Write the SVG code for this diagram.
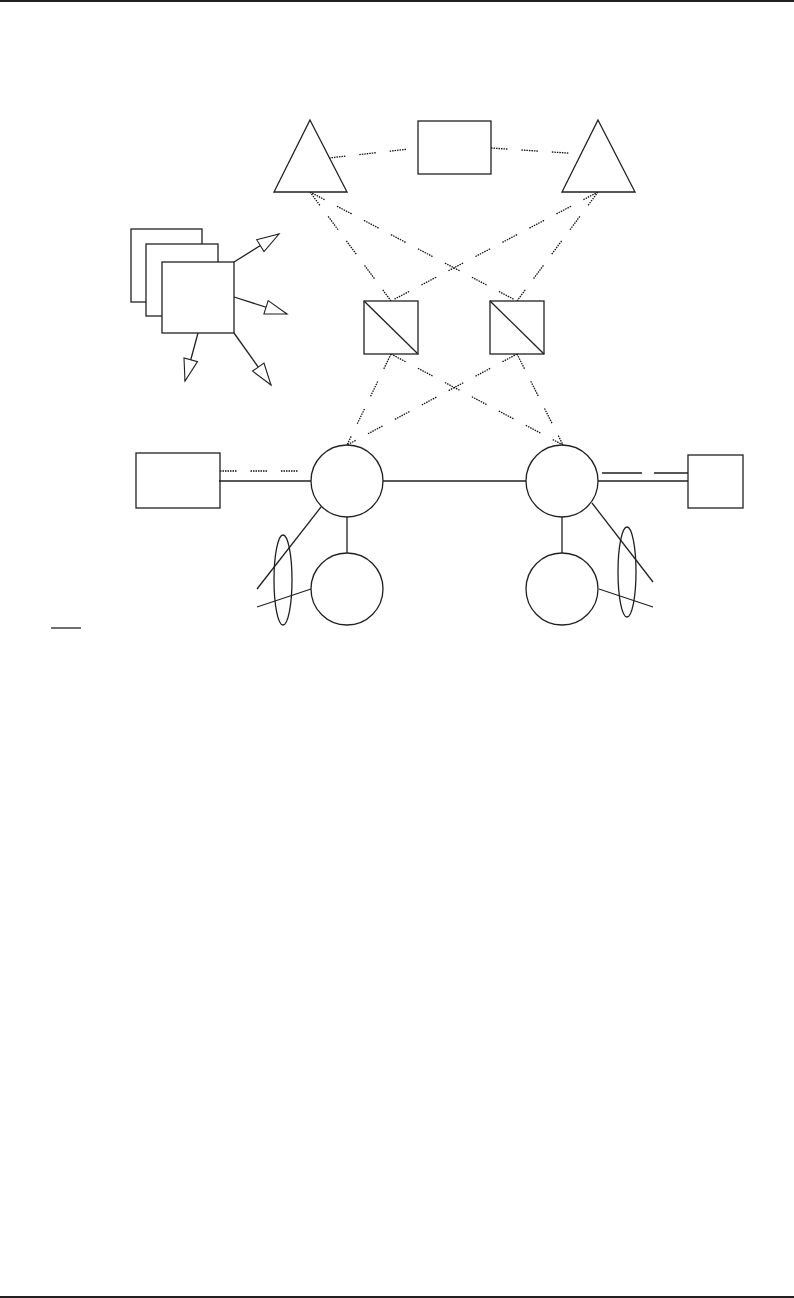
<svg xmlns="http://www.w3.org/2000/svg" width="794" height="1298" viewBox="0 0 794 1298">
<style>
.s{fill:none;stroke:#231f20;stroke-width:1.3}
.b{fill:#fff;stroke:#231f20;stroke-width:1.3}
.d{fill:none;stroke:#111;stroke-width:1.3;stroke-dasharray:1.5 1 1.5 1 1.5 1 1.5 1 1.5 1 1.5 1 1.5 14}
.ld{fill:none;stroke:#231f20;stroke-width:1.3;stroke-dasharray:40 12}
</style>
<defs>
<marker id="ah" markerUnits="userSpaceOnUse" markerWidth="26" markerHeight="18" refX="23" refY="8" orient="auto" viewBox="0 0 26 18">
<path d="M1,1 L23,8 L1,15 Z" fill="#fff" stroke="#231f20" stroke-width="1.1"/>
</marker>
</defs>
<rect x="0" y="0" width="794" height="2" fill="#231f20"/>
<rect x="0" y="1296" width="794" height="2" fill="#231f20"/>
<g id="connectors">
<line class="d" x1="329" y1="158" x2="418" y2="148"/>
<line class="d" x1="491" y1="148" x2="582" y2="154"/>
<line class="d" x1="310" y1="192" x2="391" y2="301"/>
<line class="d" x1="310" y1="192" x2="517" y2="301"/>
<line class="d" x1="598" y1="192" x2="391" y2="301"/>
<line class="d" x1="598" y1="192" x2="517" y2="301"/>
<line class="d" x1="391" y1="354" x2="347" y2="445"/>
<line class="d" x1="391" y1="354" x2="563" y2="445"/>
<line class="d" x1="517" y1="354" x2="347" y2="445"/>
<line class="d" x1="517" y1="354" x2="563" y2="445"/>
<line class="d" x1="220" y1="471" x2="311" y2="471"/>
<line class="s" x1="219" y1="481" x2="311" y2="481"/>
<line class="s" x1="383" y1="481" x2="526" y2="481"/>
<line class="s" x1="598" y1="481" x2="688" y2="481"/>
<line class="ld" x1="602" y1="473" x2="693" y2="473"/>
<line class="s" x1="347" y1="517" x2="347" y2="553"/>
<line class="s" x1="562" y1="517" x2="562" y2="553"/>
<line class="s" x1="321" y1="507" x2="257" y2="589"/>
<line class="s" x1="311" y1="589" x2="257" y2="607"/>
<line class="s" x1="592" y1="503" x2="653" y2="582"/>
<line class="s" x1="599" y1="589" x2="653" y2="607"/>
<line class="s" x1="234" y1="262" x2="279" y2="234" marker-end="url(#ah)"/>
<line class="s" x1="234" y1="297" x2="287" y2="314" marker-end="url(#ah)"/>
<line class="s" x1="198" y1="333" x2="185" y2="381" marker-end="url(#ah)"/>
<line class="s" x1="234" y1="333" x2="271" y2="385" marker-end="url(#ah)"/>
<line class="s" x1="51" y1="628" x2="81" y2="628"/>
</g>
<g id="tri-left"><polygon class="b" points="310,120 347,192 274,192"/></g>
<g id="tri-right"><polygon class="b" points="598,120 635,192 562,192"/></g>
<g id="box-top"><rect class="b" x="418" y="121" width="73" height="53"/></g>
<g id="stack">
<rect class="b" x="131" y="229" width="71" height="73"/>
<rect class="b" x="146" y="244" width="72" height="72"/>
<rect class="b" x="162" y="262" width="72" height="71"/>
</g>
<g id="sq-left"><rect class="b" x="364" y="301" width="54" height="53"/><line class="s" x1="364" y1="301" x2="418" y2="354"/></g>
<g id="sq-right"><rect class="b" x="490" y="301" width="54" height="53"/><line class="s" x1="490" y1="301" x2="544" y2="354"/></g>
<g id="box-left"><rect class="s" x="136" y="453" width="84" height="55"/></g>
<g id="box-right"><rect class="b" x="688" y="455" width="55" height="53"/></g>
<g id="c-ul"><circle class="s" cx="347" cy="481" r="36"/></g>
<g id="c-ur"><circle class="s" cx="562" cy="481" r="36"/></g>
<g id="c-ll"><circle class="s" cx="347" cy="589" r="36"/></g>
<g id="c-lr"><circle class="s" cx="562" cy="589" r="36"/></g>
<g id="ell-left"><ellipse class="s" cx="283" cy="580" rx="9" ry="45"/></g>
<g id="ell-right"><ellipse class="s" cx="627" cy="572" rx="9" ry="45"/></g>
</svg>
